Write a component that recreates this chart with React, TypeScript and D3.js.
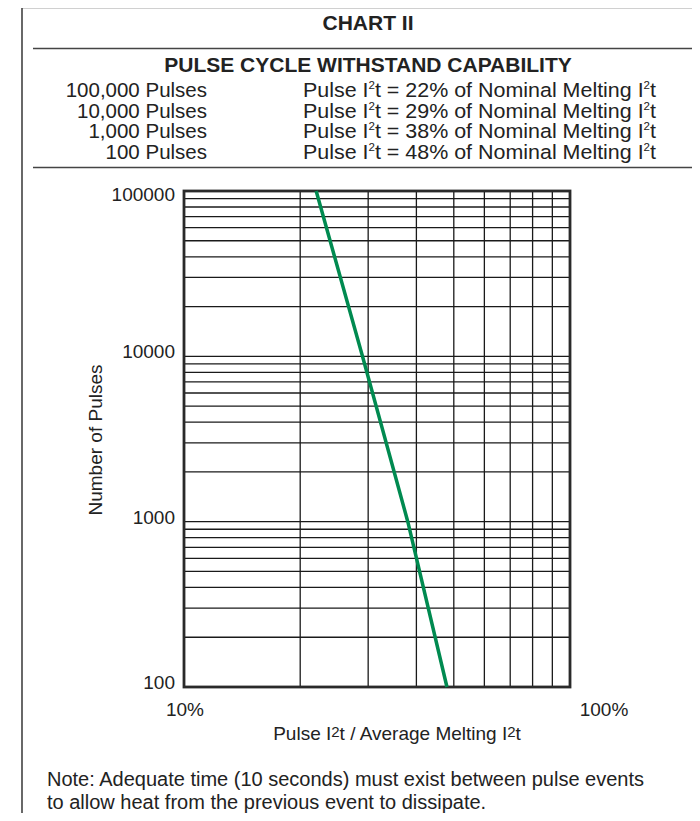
import React, { useEffect, useRef } from "react";
import * as d3 from "d3";

// Pulse cycle withstand data (percent of nominal melting I2t vs pulses)
const pulseCounts = [100000, 10000, 1000, 100];
const pulseLabels = ["100,000 Pulses", "10,000 Pulses", "1,000 Pulses", "100 Pulses"];
const pulsePercents = [22, 29, 38, 48];

const xTickValues = [10, 100];
const xTickLabels = ["10%", "100%"];
const yTickValues = [100, 1000, 10000, 100000];
const yTickLabels = ["100", "1000", "10000", "100000"];

const noteLines = [
  "Note: Adequate time (10 seconds) must exist between pulse events",
  "to allow heat from the previous event to dissipate.",
];

const FONT = "'Liberation Sans', Arial, Helvetica, sans-serif";

const App: React.FC = () => {
  const svgRef = useRef<SVGSVGElement | null>(null);

  useEffect(() => {
    if (!svgRef.current) return;
    const svg = d3.select(svgRef.current);
    svg.selectAll("*").remove();

    const margin = { left: 184, right: 570, top: 191, bottom: 687 };

    // frame and header rules
    svg.append("path")
      .attr("d", "M22,821 L22,7.5 L700,7.5")
      .attr("fill", "none")
      .attr("stroke", "#444")
      .attr("stroke-width", 1.6);
    [48.5, 167.5].forEach((yy) => {
      svg.append("line")
        .attr("x1", 33).attr("x2", 700)
        .attr("y1", yy).attr("y2", yy)
        .attr("stroke", "#444").attr("stroke-width", 1.6);
    });

    svg.append("text")
      .attr("x", 368).attr("y", 30)
      .attr("text-anchor", "middle")
      .attr("font-family", FONT).attr("font-weight", "bold").attr("font-size", 21)
      .attr("fill", "#222")
      .text("CHART II");

    svg.append("text")
      .attr("x", 368).attr("y", 72)
      .attr("text-anchor", "middle")
      .attr("font-family", FONT).attr("font-weight", "bold").attr("font-size", 21)
      .attr("fill", "#222")
      .text("PULSE CYCLE WITHSTAND CAPABILITY");

    // header table rows
    pulseLabels.forEach((lab, i) => {
      const yy = 97 + i * 20.5;
      svg.append("text")
        .attr("x", 207).attr("y", yy)
        .attr("text-anchor", "end")
        .attr("font-family", FONT).attr("font-size", 20.5)
        .attr("fill", "#222")
        .text(lab);
      const t = svg.append("text")
        .attr("x", 303).attr("y", yy)
        .attr("font-family", FONT).attr("font-size", 20.5)
        .attr("textLength", 353).attr("lengthAdjust", "spacingAndGlyphs")
        .attr("fill", "#222");
      t.append("tspan").text("Pulse I");
      t.append("tspan").attr("font-size", 11).attr("dy", -8).text("2");
      t.append("tspan").attr("dy", 8).text(`t = ${pulsePercents[i]}% of Nominal Melting I`);
      t.append("tspan").attr("font-size", 11).attr("dy", -8).text("2");
      t.append("tspan").attr("dy", 8).text("t");
    });

    const x = d3.scaleLog().domain([10, 100]).range([margin.left, margin.right]);
    const y = d3.scaleLog().domain([100, 100000]).range([margin.bottom, margin.top]);

    const g = svg.append("g");

    // grid lines at 20..90 % and 2..9 per decade
    const xGrid = d3.range(20, 100, 10);
    g.selectAll(".xg")
      .data(xGrid)
      .enter()
      .append("line")
      .attr("x1", (d) => x(d)).attr("x2", (d) => x(d))
      .attr("y1", margin.top).attr("y2", margin.bottom)
      .attr("stroke", "#1a1a1a").attr("stroke-width", 1.3);

    const yGrid: number[] = [];
    [100, 1000, 10000].forEach((dec) => {
      for (let k = 1; k <= 9; k++) {
        const v = dec * k;
        if (v > 100 && v < 100000) yGrid.push(v);
      }
    });
    g.selectAll(".yg")
      .data(yGrid)
      .enter()
      .append("line")
      .attr("x1", margin.left).attr("x2", margin.right)
      .attr("y1", (d) => y(d)).attr("y2", (d) => y(d))
      .attr("stroke", "#1a1a1a").attr("stroke-width", 1.3);

    g.append("rect")
      .attr("x", margin.left).attr("y", margin.top)
      .attr("width", margin.right - margin.left)
      .attr("height", margin.bottom - margin.top)
      .attr("fill", "none").attr("stroke", "#2a2a2a").attr("stroke-width", 2.8);

    // withstand line
    const line = d3.line<number>()
      .x((d, i) => x(pulsePercents[i]))
      .y((d) => y(d));
    g.append("path")
      .datum(pulseCounts)
      .attr("d", line)
      .attr("fill", "none")
      .attr("stroke", "#008a50")
      .attr("stroke-width", 3.5);

    // y tick labels
    g.selectAll(".yl")
      .data(yTickValues)
      .enter()
      .append("text")
      .attr("x", margin.left - 9)
      .attr("y", (d) => y(d) + (d === 100000 ? 10 : 2))
      .attr("text-anchor", "end")
      .attr("font-family", FONT).attr("font-size", 19)
      .attr("fill", "#222")
      .text((d, i) => yTickLabels[i]);

    // x tick labels (100% sits out to the right in the original)
    const xOffsets = [1, 34];
    g.selectAll(".xl")
      .data(xTickValues)
      .enter()
      .append("text")
      .attr("x", (d, i) => x(d) + xOffsets[i])
      .attr("y", margin.bottom + 29)
      .attr("text-anchor", "middle")
      .attr("font-family", FONT).attr("font-size", 19)
      .attr("fill", "#222")
      .text((d, i) => xTickLabels[i]);

    // axis titles
    const xt = g.append("text")
      .attr("x", 397).attr("y", margin.bottom + 53)
      .attr("text-anchor", "middle")
      .attr("font-family", FONT).attr("font-size", 19)
      .attr("fill", "#222");
    xt.append("tspan").text("Pulse I");
    xt.append("tspan").attr("font-size", 15).attr("dy", -3).text("2");
    xt.append("tspan").attr("dy", 3).text("t / Average Melting I");
    xt.append("tspan").attr("font-size", 15).attr("dy", -3).text("2");
    xt.append("tspan").attr("dy", 3).text("t");

    g.append("text")
      .attr("transform", "translate(102,440) rotate(-90)")
      .attr("text-anchor", "middle")
      .attr("font-family", FONT).attr("font-size", 19)
      .attr("fill", "#222")
      .text("Number of Pulses");

    // note
    noteLines.forEach((s, i) => {
      svg.append("text")
        .attr("x", 47).attr("y", 786 + i * 23)
        .attr("font-family", FONT).attr("font-size", 20)
        .attr("fill", "#222")
        .text(s);
    });
  }, []);

  return (
    <div style={{ margin: -8 }}>
      <svg ref={svgRef} width={700} height={821} style={{ display: "block", background: "#fff" }} />
    </div>
  );
};

export default App;
